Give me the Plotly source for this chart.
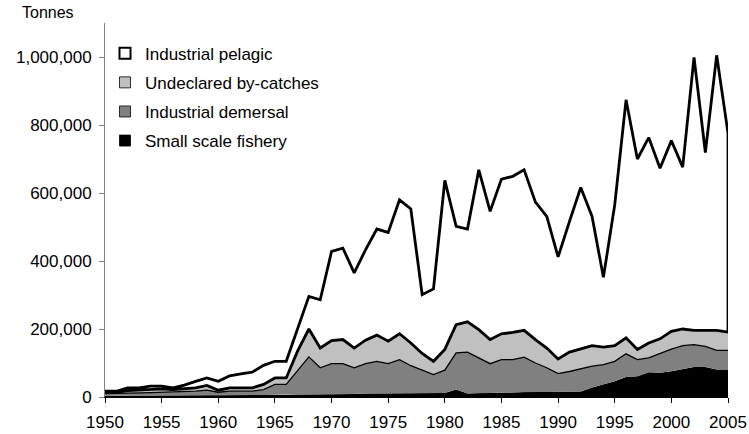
import plotly.graph_objects as go
import numpy as np

years = list(range(1950, 2006))

# tonnes per year
small_scale_fishery = [4000, 4000, 5000, 5000, 5000, 5000, 5000, 5000, 6000, 6000,
                       5000, 5000, 5000, 6000, 6000, 6000, 6000, 7000, 7000, 7000,
                       8000, 8000, 9000, 10000, 10000, 11000, 12000, 12000, 12000, 12000,
                       12000, 22000, 10000, 12000, 12000, 13000, 13000, 15000, 15000, 15000,
                       15000, 15000, 16000, 28000, 37000, 46000, 59000, 61000, 73000, 71000,
                       76000, 81000, 88000, 88000, 81000, 81000]
industrial_demersal = [6000, 6000, 6000, 7000, 8000, 9000, 9000, 10000, 11000, 14000,
                       9000, 12000, 12000, 11000, 16000, 31000, 31000, 69000, 111000, 79000,
                       90000, 90000, 77000, 88000, 95000, 87000, 98000, 80000, 67000, 54000,
                       67000, 108000, 122000, 103000, 86000, 97000, 97000, 102000, 85000, 71000,
                       54000, 60000, 67000, 63000, 58000, 59000, 68000, 49000, 42000, 57000,
                       65000, 70000, 66000, 61000, 56000, 56000]
undeclared_bycatches = [4000, 4000, 8000, 8000, 9000, 10000, 8000, 10000, 10000, 14000,
                        6000, 10000, 10000, 10000, 15000, 19000, 19000, 59000, 82000, 58000,
                        68000, 71000, 58000, 69000, 77000, 66000, 76000, 67000, 49000, 39000,
                        61000, 83000, 89000, 83000, 71000, 76000, 80000, 79000, 69000, 58000,
                        43000, 57000, 58000, 60000, 52000, 46000, 47000, 30000, 44000, 43000,
                        52000, 49000, 42000, 47000, 59000, 54000]
industrial_pelagic = [3000, 3000, 8000, 7000, 10000, 8000, 5000, 10000, 19000, 22000,
                      26000, 35000, 41000, 46000, 56000, 49000, 49000, 65000, 96000, 142000,
                      262000, 269000, 221000, 266000, 312000, 320000, 394000, 394000, 173000, 213000,
                      497000, 289000, 273000, 470000, 377000, 455000, 459000, 472000, 404000, 387000,
                      300000, 384000, 475000, 380000, 205000, 414000, 700000, 560000, 604000, 502000,
                      561000, 476000, 803000, 523000, 809000, 585000]

series_names = ["Industrial pelagic", "Undeclared by-catches", "Industrial demersal", "Small scale fishery"]
series_colors = ["#FFFFFF", "#C0C0C0", "#808080", "#000000"]
y_ticks = [0, 200000, 400000, 600000, 800000, 1000000]
x_ticks = list(range(1950, 2006, 5))

FONT = "Arial, 'Liberation Sans', sans-serif"

s_top = np.array(small_scale_fishery)
d_top = s_top + np.array(industrial_demersal)
b_top = d_top + np.array(undeclared_bycatches)
t_top = b_top + np.array(industrial_pelagic)
zero = np.zeros(len(years))


def band(lower, upper):
    xs = years + years[::-1]
    ys = list(upper) + list(lower[::-1])
    return xs, ys


fig = go.Figure()

# filled bands (bottom to top)
for lower, upper, color in [(zero, s_top, "#000000"), (s_top, d_top, "#808080"), (d_top, b_top, "#C0C0C0")]:
    xs, ys = band(lower, upper)
    fig.add_trace(go.Scatter(x=xs, y=ys, fill="toself", fillcolor=color, mode="lines",
                             line=dict(width=0, color=color), showlegend=False, hoverinfo="skip"))

# thin border on top of the demersal band
fig.add_trace(go.Scatter(x=years, y=d_top, mode="lines", line=dict(color="#000000", width=1.3),
                         showlegend=False, hoverinfo="skip"))

# white pelagic band with a heavy black outline
xs, ys = band(b_top, t_top)
fig.add_trace(go.Scatter(x=xs, y=ys, fill="toself", fillcolor="#FFFFFF", mode="lines",
                         line=dict(color="#000000", width=2.8), showlegend=False, hoverinfo="skip"))

# legend entries
for i, (name, color) in enumerate(zip(series_names, series_colors)):
    fig.add_trace(go.Scatter(x=[None], y=[None], mode="markers", name=name, legendgroup=name,
                             marker=dict(symbol="square", size=11, color=color,
                                         line=dict(color="#000000", width=2 if i == 0 else 0.8))))

fig.update_layout(
    width=749, height=434,
    margin=dict(l=105, r=21, t=23, b=36.5),
    paper_bgcolor="white", plot_bgcolor="white",
    font=dict(family=FONT, size=16, color="#000000"),
    showlegend=True,
    legend=dict(x=0.0, y=0.966, xanchor="left", yanchor="top", bgcolor="rgba(0,0,0,0)",
                font=dict(size=17, family=FONT, color="#000000"), tracegroupgap=4,
                traceorder="grouped"),
    xaxis=dict(range=[1950, 2005], tickvals=x_ticks, ticks="outside", ticklen=5,
               tickcolor="#000000", showline=True, linecolor="#000000", linewidth=1,
               showgrid=False, zeroline=False, tickfont=dict(size=17), automargin=False,
               ticklabelstandoff=5),
    yaxis=dict(range=[0, 1100000], tickvals=y_ticks, tickformat=",d", ticks="outside", ticklen=5,
               tickcolor="#808080", showline=True, linecolor="#808080", linewidth=1,
               showgrid=False, zeroline=False, tickfont=dict(size=17), automargin=False,
               ticklabelstandoff=4),
    annotations=[dict(text="Tonnes", xref="paper", yref="paper", x=-0.137, y=1.029,
                      xanchor="left", yanchor="middle", showarrow=False,
                      font=dict(size=16, family=FONT, color="#000000"))],
)

fig.write_html("out.html", config={"displayModeBar": False},
               post_script="document.body.style.margin='0';document.body.style.padding='0';")
